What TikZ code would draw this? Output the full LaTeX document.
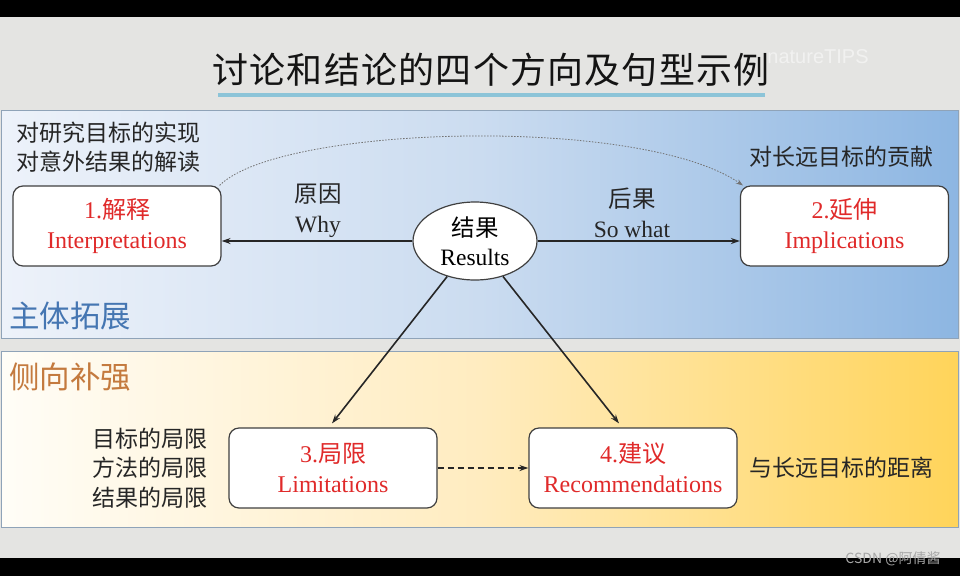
\documentclass[tikz,border=0pt]{standalone}
\usepackage{fontspec}
\setmainfont{Liberation Serif}
\newfontfamily\cjk{Noto Sans CJK SC}
\newfontfamily\cjktitle[LetterSpace=3.4]{Noto Sans CJK SC}
\newfontfamily\wmfont{Liberation Sans}
\usetikzlibrary{arrows.meta,shapes.geometric}
\definecolor{bgray}{HTML}{E4E4E2}
\definecolor{bluea}{HTML}{EDF2FA}
\definecolor{blueb}{HTML}{CBDCF0}
\definecolor{bluec}{HTML}{8DB6E2}
\definecolor{yela}{HTML}{FFFDF7}
\definecolor{yelb}{HTML}{FFECC0}
\definecolor{yelc}{HTML}{FFD45A}
\definecolor{panelborder}{HTML}{8FA3B8}
\definecolor{boxborder}{HTML}{404040}
\definecolor{redtxt}{HTML}{E02A2A}
\definecolor{darktxt}{HTML}{262626}
\definecolor{titleline}{HTML}{8CC4D8}
\definecolor{mainblue}{HTML}{4576B2}
\definecolor{sideorange}{HTML}{C47A3E}
\pgfdeclarehorizontalshading{blueshade}{100bp}{color(0bp)=(bluea); color(25bp)=(bluea); color(50bp)=(blueb); color(75bp)=(bluec); color(100bp)=(bluec)}
\pgfdeclarehorizontalshading{yellowshade}{100bp}{color(0bp)=(yela); color(25bp)=(yela); color(50bp)=(yelb); color(75bp)=(yelc); color(100bp)=(yelc)}
\begin{document}
\begin{tikzpicture}[x=1pt,y=-1pt,
  boxnode/.style={draw=boxborder, line width=1.2pt, fill=white, rounded corners=10pt,
    minimum width=208pt, minimum height=80pt, align=center, text=redtxt, inner sep=0pt,
    font=\fontsize{24}{30}\selectfont},
  labeltxt/.style={text=darktxt, align=center, inner sep=0pt, font=\fontsize{23.5}{30}\selectfont},
  desctxt/.style={text=darktxt, inner sep=0pt, font=\cjk\fontsize{23}{29.5}\selectfont},
  arr/.style={-{Stealth[length=9pt,width=6pt]}, line width=1.6pt, draw=black!85},
  paneltitle/.style={inner sep=0pt, anchor=west, font=\cjk\fontsize{30.5}{34}\selectfont}
]
\useasboundingbox (0,0) rectangle (960,576);
% background
\fill[bgray] (0,0) rectangle (960,576);
\fill[black] (0,0) rectangle (960,17);
\fill[black] (0,558) rectangle (960,576);
% title
\node[inner sep=0pt, text=white, opacity=0.5, font=\wmfont\fontsize{20}{22}\selectfont] (wm) at (818,57) {natureTIPS};
\node[inner sep=0pt, text=black!92, font=\cjktitle\fontsize{36}{40}\selectfont] (title) at (491,70) {讨论和结论的四个方向及句型示例};
\draw[titleline, line width=4pt] (218,95) -- (765,95);
% panels
\shade[shading=blueshade, draw=panelborder, line width=1pt] (1,110) rectangle (958,338);
\shade[shading=yellowshade, draw=panelborder, line width=1pt] (1,351) rectangle (958,527);
\node[paneltitle, text=mainblue] (ptmain) at (9,316) {主体拓展};
\node[paneltitle, text=sideorange] (ptside) at (9,377) {侧向补强};
% descriptions
\node[desctxt, anchor=west, align=left] (d1) at (16,147) {对研究目标的实现\\对意外结果的解读};
\node[desctxt, anchor=west] (d2) at (749,157) {对长远目标的贡献};
\node[desctxt, anchor=east, align=right] (d3) at (208,468) {目标的局限\\方法的局限\\结果的局限};
\node[desctxt, anchor=west] (d4) at (749,468) {与长远目标的距离};
% boxes
\node[boxnode] (b1) at (117,226) {1.{\cjk 解释}\\Interpretations};
\node[boxnode] (b2) at (844.5,226) {2.{\cjk 延伸}\\Implications};
\node[boxnode] (b3) at (333,468) {3.{\cjk 局限}\\Limitations};
\node[boxnode] (b4) at (633,468) {4.{\cjk 建议}\\Recommendations};
\node[ellipse, draw=boxborder, line width=1.2pt, fill=white, minimum width=124pt, minimum height=78pt,
  inner sep=0pt, align=center, text=black, font=\fontsize{23.5}{29}\selectfont] (res) at (475,241) {{\cjk 结果}\\Results};
% arrow labels
\node[labeltxt] (why) at (318,211) {{\cjk 原因}\\Why};
\node[labeltxt] (sowhat) at (632,213) {{\cjk 后果}\\So what};
% connectors
\draw[arr] (res.west) -- (res.west -| b1.east);
\draw[arr] (res.east) -- (res.east -| b2.west);
\draw[arr] (res) -- ([xshift=-1pt,yshift=4pt]b3.north);
\draw[arr] (res) -- ([xshift=-14pt,yshift=4pt]b4.north);
\draw[arr, dash pattern=on 6pt off 4pt] (b3.east) -- (b4.west);
\draw[draw=black!55, line width=0.8pt, dash pattern=on 1.5pt off 1.5pt, -{Stealth[length=7pt,width=5pt]}]
  ([xshift=-2pt]b1.north east) .. controls (280,125) and (640,115) .. ([xshift=3pt]b2.north west);
% footer watermark
\node[inner sep=0pt, text=black!35, font=\cjk\fontsize{14}{16}\selectfont] (csdn) at (893,559) {CSDN @阿倩酱};
\end{tikzpicture}
\end{document}
